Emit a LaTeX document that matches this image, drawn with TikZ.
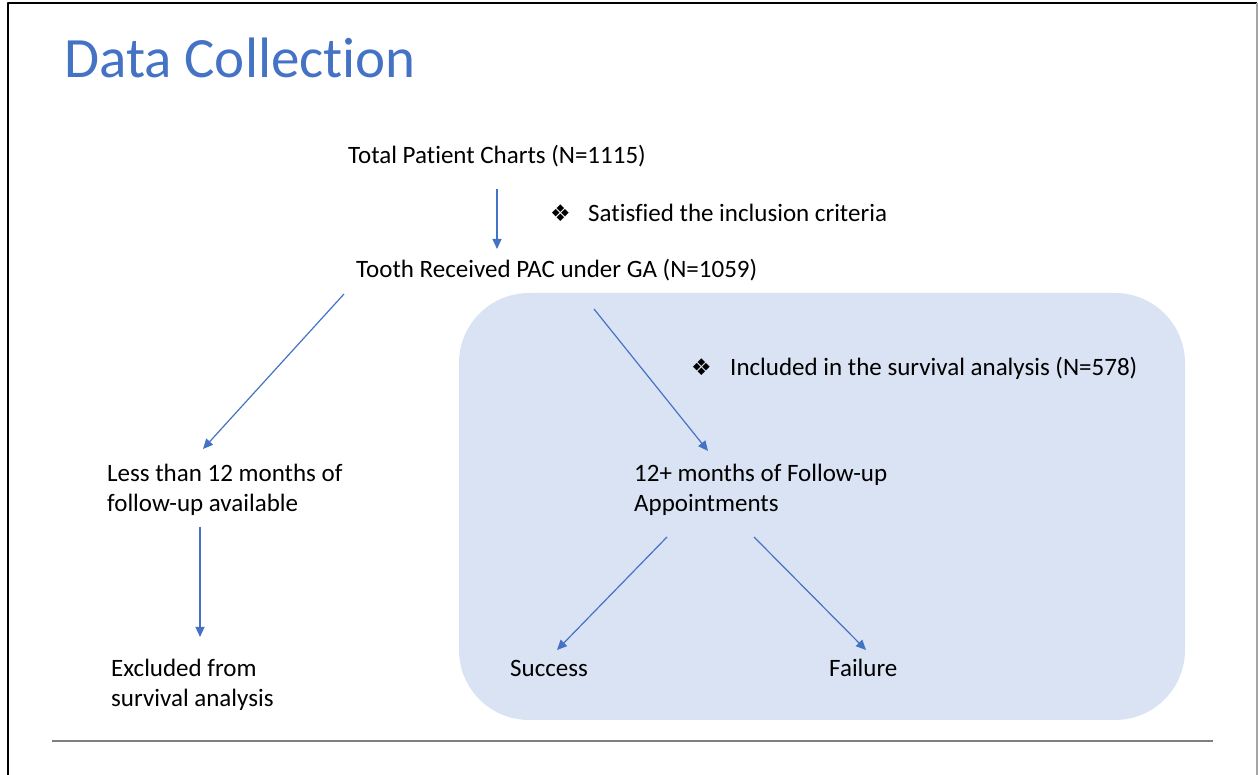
\documentclass[tikz,border=0pt]{standalone}
\usepackage{fontspec}
\setmainfont{Carlito}[Ligatures=NoCommon]
\newfontfamily\bulletfont{DejaVu Sans}
\usetikzlibrary{arrows.meta}
\definecolor{titleblue}{HTML}{4472C4}
\definecolor{arrowblue}{HTML}{4472C4}
\definecolor{boxfill}{HTML}{DAE3F3}
\definecolor{rulegray}{HTML}{7F7F7F}
\newcommand{\critmark}[1]{\makebox[#1][l]{\bulletfont\fontsize{23bp}{23bp}\selectfont ❖}}
\tikzset{
  flowtext/.style={inner sep=0pt,font=\fontsize{25bp}{30.5bp}\selectfont,align=left},
  flowarrow/.style={draw=arrowblue,line width=1.2bp,-{Triangle[length=10bp,width=9bp]}}
}
\begin{document}
\begin{tikzpicture}[>=latex,line join=bevel]
  \useasboundingbox (0bp,0bp) rectangle (1258bp,775bp);
%%
  % Frame
  \draw [line width=2bp] (8bp,0bp) -- (8bp,772bp) -- (1257bp,772bp);
  \draw [rulegray!70,line width=1.2bp] (1257bp,772bp) -- (1257bp,0bp);
  \draw [rulegray,line width=2.2bp] (52bp,34bp) -- (1213bp,34bp);
  % Survival analysis panel
  \fill [boxfill,rounded corners=70bp] (459bp,55bp) rectangle (1185bp,482bp);
  % Node: Title
  \node (title) [anchor=base west,inner sep=0pt,text=titleblue,font=\fontsize{57bp}{64bp}\selectfont] at (64bp,697bp) {Data Collection};
  % Node: Total
  \node (total) [flowtext,anchor=base] at (497bp,611bp) {Total Patient Charts (N=1115)};
  % Node: Inclusion
  \node (incl) [flowtext,anchor=base west] at (550bp,553bp) {\critmark{38bp}Satisfied the inclusion criteria};
  % Node: Tooth
  \node (tooth) [flowtext,anchor=base west] at (356bp,497bp) {Tooth Received PAC under GA (N=1059)};
  % Node: Included
  \node (surv) [flowtext,anchor=base west] at (691bp,399bp) {\critmark{39bp}Included in the survival analysis (N=578)};
  % Node: Short
  \node (short) [flowtext,anchor=base west] at (107bp,263bp) {Less than 12 months of\\follow-up available};
  % Node: Long
  \node (long) [flowtext,anchor=base west] at (634bp,263bp) {12+ months of Follow-up\\Appointments};
  % Node: Excluded
  \node (excl) [flowtext,anchor=base west] at (111bp,68bp) {Excluded from\\survival analysis};
  % Node: Success
  \node (success) [flowtext,anchor=base west] at (510bp,98bp) {Success};
  % Node: Failure
  \node (failure) [flowtext,anchor=base west] at (829bp,98bp) {Failure};
%
  \coordinate (total-out) at (497bp,586bp);
  \coordinate (tooth-in) at (497bp,526bp);
  \coordinate (tooth-left) at (344bp,481bp);
  \coordinate (short-in) at (203bp,326bp);
  \coordinate (tooth-right) at (594bp,466bp);
  \coordinate (long-in) at (708bp,324bp);
  \coordinate (short-out) at (200bp,248bp);
  \coordinate (excl-in) at (200bp,138bp);
  \coordinate (long-left) at (667bp,238bp);
  \coordinate (success-in) at (557bp,125bp);
  \coordinate (long-right) at (754bp,238bp);
  \coordinate (failure-in) at (866bp,125bp);
  % Edge: Total -> Tooth
  \draw [flowarrow] (total-out) -- (tooth-in);
  % Edge: Tooth -> Short
  \draw [flowarrow] (tooth-left) -- (short-in);
  % Edge: Tooth -> Long
  \draw [flowarrow] (tooth-right) -- (long-in);
  % Edge: Short -> Excluded
  \draw [flowarrow] (short-out) -- (excl-in);
  % Edge: Long -> Success
  \draw [flowarrow] (long-left) -- (success-in);
  % Edge: Long -> Failure
  \draw [flowarrow] (long-right) -- (failure-in);
%
\end{tikzpicture}
\end{document}
